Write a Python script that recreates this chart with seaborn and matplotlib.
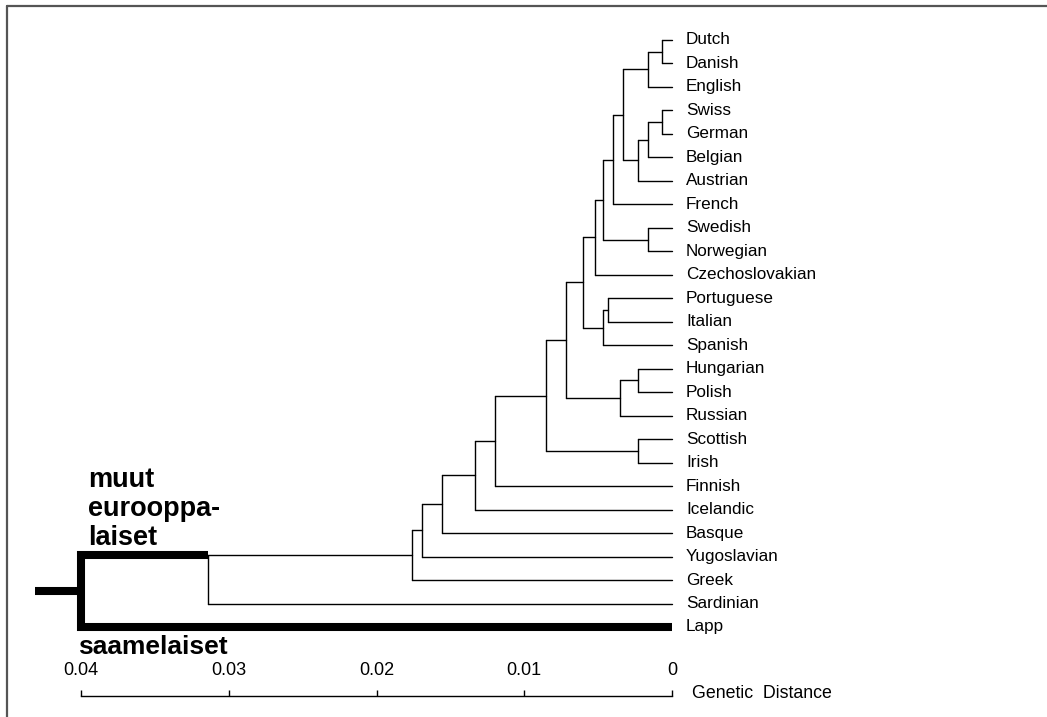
import numpy as np
import pandas as pd
import matplotlib
matplotlib.use("Agg")
import matplotlib.pyplot as plt
from matplotlib.lines import Line2D
import seaborn as sns

# leaves, top to bottom
leaves = ["Dutch", "Danish", "English", "Swiss", "German", "Belgian", "Austrian",
          "French", "Swedish", "Norwegian", "Czechoslovakian", "Portuguese",
          "Italian", "Spanish", "Hungarian", "Polish", "Russian", "Scottish",
          "Irish", "Finnish", "Icelandic", "Basque", "Yugoslavian", "Greek",
          "Sardinian", "Lapp"]

# merges: (left child, right child, genetic distance of the join)
merge_left = ["Dutch", "n1", "Swiss", "n3", "n4", "n2", "n6", "Swedish", "n7",
              "n9", "Portuguese", "n11", "n10", "Hungarian", "n14", "n13",
              "Scottish", "n16", "n18", "n19", "n20", "n21", "n22", "n23", "n24"]
merge_right = ["Danish", "English", "German", "Belgian", "Austrian", "n5", "French",
               "Norwegian", "n8", "Czechoslovakian", "Italian", "Spanish", "n12",
               "Polish", "Russian", "n15", "Irish", "n17", "Finnish", "Icelandic",
               "Basque", "Yugoslavian", "Greek", "Sardinian", "Lapp"]
merge_height = [0.0007, 0.0016, 0.0007, 0.0016, 0.0023, 0.0033, 0.0040, 0.0016,
                0.0047, 0.0052, 0.0043, 0.0047, 0.0060, 0.0023, 0.0035, 0.0072,
                0.0023, 0.0085, 0.0120, 0.0133, 0.0156, 0.0169, 0.0176, 0.0314,
                0.0400]

tick_values = [0.04, 0.03, 0.02, 0.01, 0.0]
tick_labels = ["0.04", "0.03", "0.02", "0.01", "0"]

# layout of the tree
pos = {name: (0.0, i) for i, name in enumerate(leaves)}
segments = []
for k, (a, b, h) in enumerate(zip(merge_left, merge_right, merge_height)):
    node = f"n{k + 1}"
    xa, ya = pos[a]
    xb, yb = pos[b]
    pos[node] = (h, (ya + yb) / 2)
    segments.append((node, "v", h, ya, h, yb))
    segments.append((a, "h", xa, ya, h, ya))
    segments.append((b, "h", xb, yb, h, yb))

root = f"n{len(merge_height)}"
europe = merge_left[-1]          # muut eurooppalaiset
europe_top = pos[merge_left[-2]][1]
lapp_y = pos["Lapp"][1]
root_h = merge_height[-1]

thin_rows = []
for sid, (child, kind, x0, y0, x1, y1) in enumerate(segments):
    # the root branches are drawn thick below
    if (kind == "v" and child == root) or (kind == "h" and child in ("Lapp", europe)):
        continue
    thin_rows.append({"seg": sid, "x": x0, "y": y0})
    thin_rows.append({"seg": sid, "x": x1, "y": y1})
seg_df = pd.DataFrame(thin_rows)

sns.set_theme(style="white")
plt.rcParams["font.family"] = ["Liberation Sans", "DejaVu Sans"]

fig = plt.figure(figsize=(10.47, 7.17), dpi=100)
ax = fig.add_axes([0, 0, 1, 1])
ax.set_facecolor("white")

sns.lineplot(data=seg_df, x="x", y="y", units="seg", estimator=None, sort=False,
             color="black", linewidth=1.0, ax=ax, legend=False)

# highlighted split: europeans vs saami
thick = dict(color="black", linewidth=5.8, solid_joinstyle="miter",
             solid_capstyle="butt")
ax.plot([pos[europe][0], root_h, root_h, 0.0],
        [europe_top, europe_top, lapp_y, lapp_y], **thick)
stub = 0.0031
root_y = (europe_top + lapp_y) / 2
ax.plot([root_h + stub, root_h - 0.0002], [root_y, root_y], **thick)

# leaf labels
for name in leaves:
    ax.annotate(name, (0.0, pos[name][1]), xytext=(10, 0), textcoords="offset points",
                ha="left", va="center", fontsize=12.3, color="black")

ax.annotate("muut\neurooppa-\nlaiset", (root_h, europe_top), xytext=(5, 3),
            textcoords="offset points", ha="left", va="bottom", fontsize=19.5,
            fontweight="bold", linespacing=1.15, color="black")
ax.annotate("saamelaiset", (root_h, lapp_y), xytext=(-2, -19.5),
            textcoords="offset points", ha="left", va="baseline", fontsize=19,
            fontweight="bold", color="black")

# axis limits: 0.04 at the left, 0 at the right
ax.set_xlim(0.04 + 81 / 14775, -(1047 - 672) / 14775)
ax.set_ylim((717 - 40) / 23.48, -40 / 23.48)
ax.set_xlabel("")
ax.set_ylabel("")
ax.set_yticks([])

scale_y = 1 - 696 / 717
for side in ["top", "left", "right"]:
    ax.spines[side].set_visible(False)
ax.spines["bottom"].set_position(("axes", scale_y))
ax.spines["bottom"].set_bounds(0.0, 0.04)
ax.spines["bottom"].set_color("black")
ax.spines["bottom"].set_linewidth(1.0)
ax.set_xticks(tick_values)
ax.set_xticklabels(tick_labels)
ax.tick_params(axis="x", direction="in", length=4.5, width=1.0, color="black",
               pad=-24.5, labelsize=13, labelcolor="black", bottom=True)
ax.annotate("Genetic  Distance", (0.0, scale_y), xycoords=("data", "axes fraction"),
            xytext=(20, 3), textcoords="offset pixels",
            ha="left", va="center", fontsize=12.8, color="black")

# scan border (top and left edges)
fig.add_artist(Line2D([7 / 1047, 1], [1 - 6 / 717, 1 - 6 / 717],
                      color="#555555", linewidth=1.6))
fig.add_artist(Line2D([7 / 1047, 7 / 1047], [0, 1 - 6 / 717],
                      color="#555555", linewidth=1.6))

fig.savefig("out.png", dpi=100, facecolor="white")
